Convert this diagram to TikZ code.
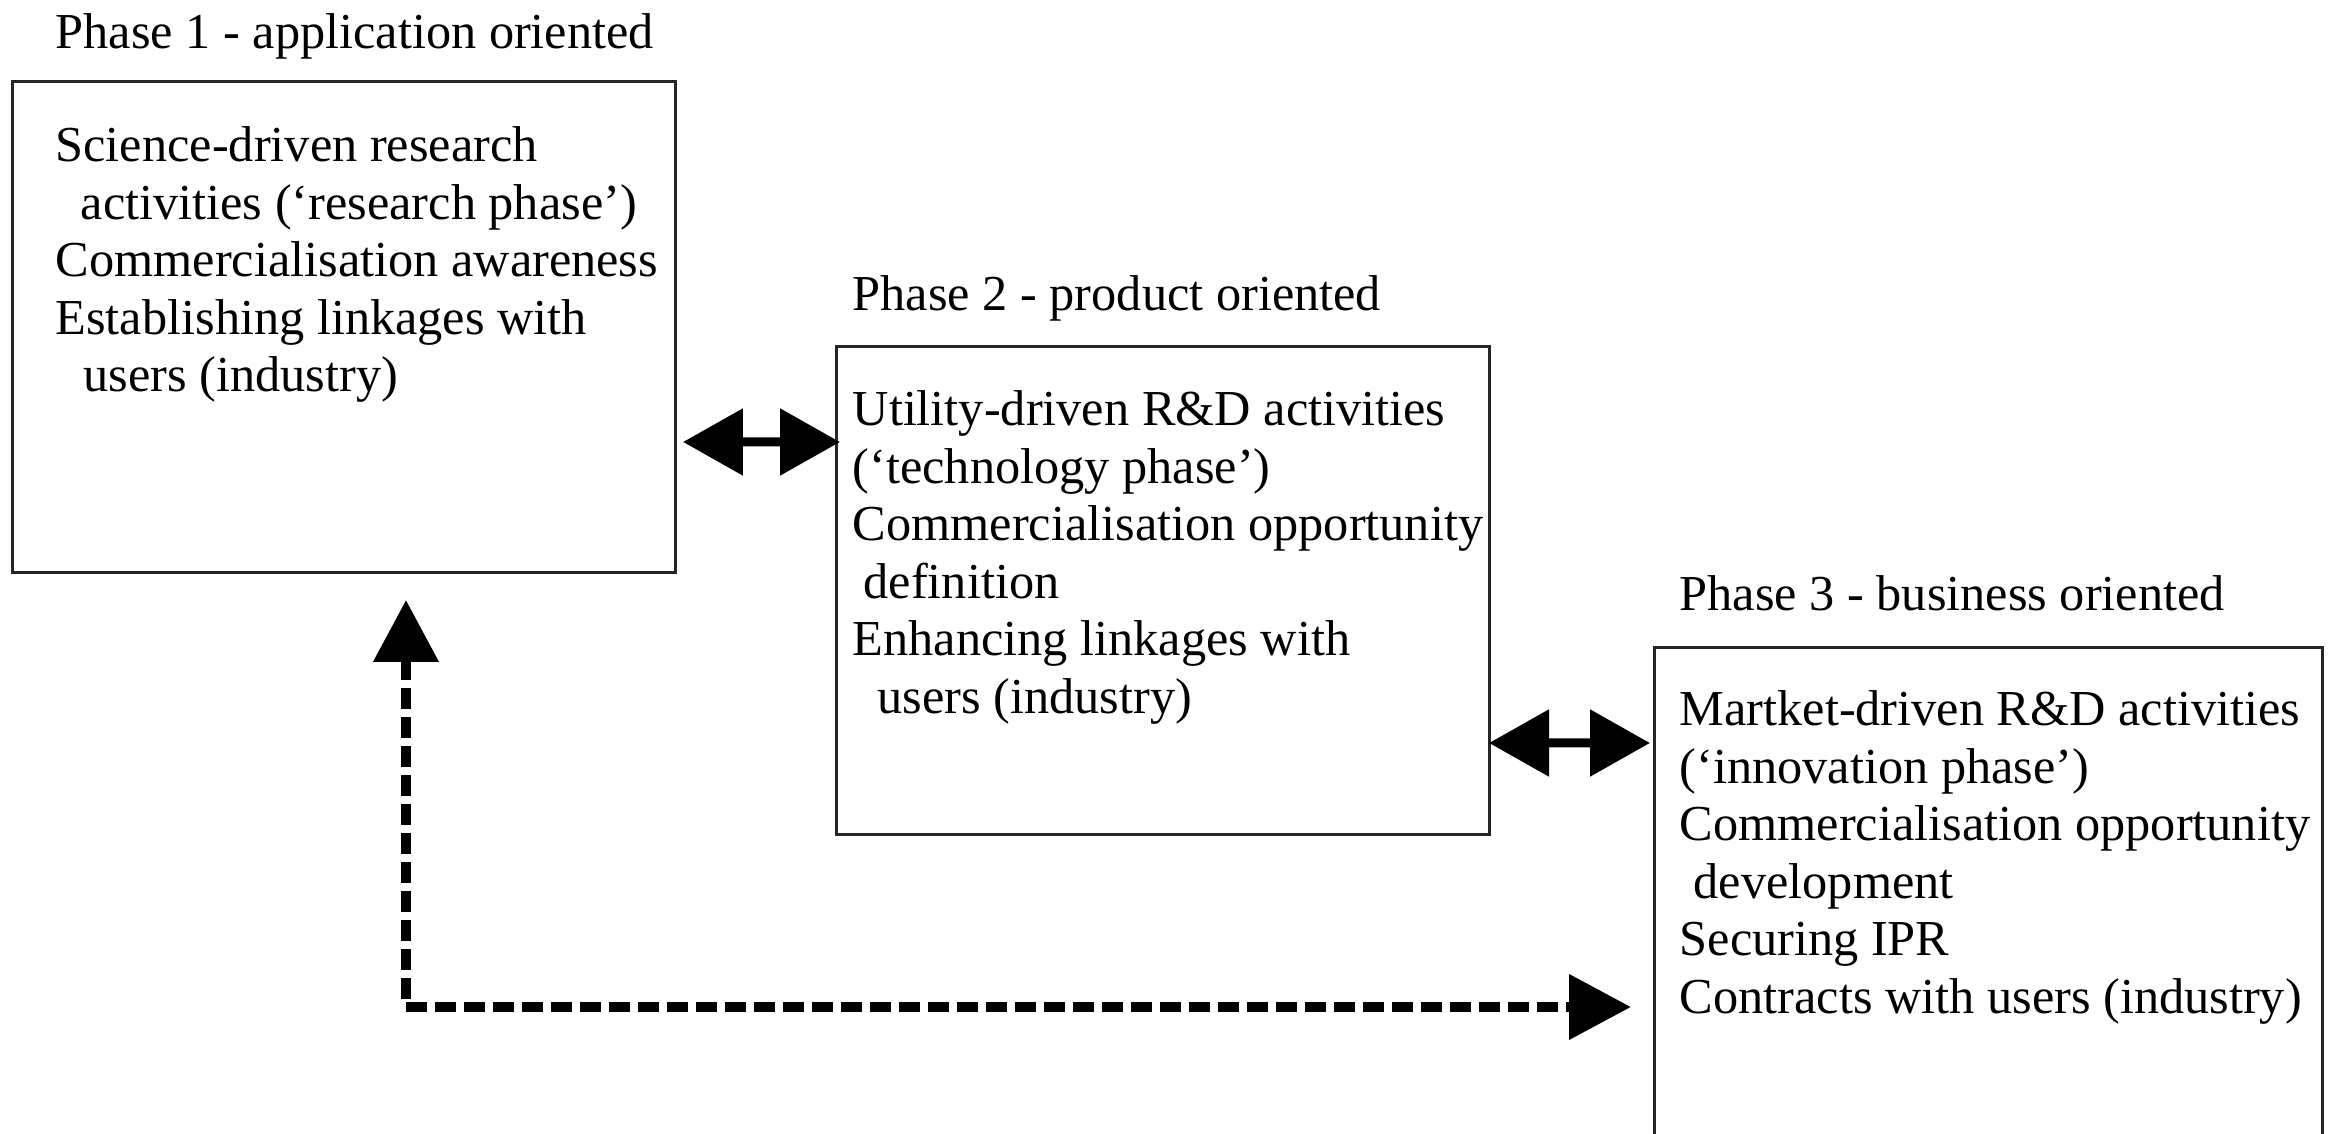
\documentclass[tikz,border=0pt]{standalone}
\usepackage{fontspec}
\setmainfont{Liberation Serif}
\usetikzlibrary{arrows.meta}
\begin{document}
\begin{tikzpicture}[x=0.3pt,y=-0.3pt,
  phasebox/.style={draw=black!85, line width=0.9pt, outer sep=0pt, inner sep=0pt, rectangle},
  bodytext/.style={anchor=north west, inner sep=0pt, align=left,
    font=\fontsize{15.1}{17.25}\selectfont},
  headtext/.style={anchor=base west, inner sep=0pt,
    font=\fontsize{15.1}{17.25}\selectfont},
  linkarrow/.style={line width=2.7pt,
    {Triangle[length=18pt,width=19.5pt]}-{Triangle[length=18pt,width=19.5pt]}},
  feedback/.style={line width=3pt, dash pattern=on 6.3pt off 2.4pt,
    {Triangle[length=18.6pt,width=19pt]}-{Triangle[length=18.6pt,width=19pt]}}
]
\useasboundingbox (0,0) rectangle (2338,1134);
\clip (0,0) rectangle (2338,1134);

% phase boxes
\node[phasebox, anchor=north west, minimum width=199.2pt, minimum height=147.3pt] (p1) at (12,82) {};
\node[phasebox, anchor=north west, minimum width=195.9pt, minimum height=146.4pt] (p2) at (836,347) {};
\node[phasebox, anchor=north west, minimum width=200.4pt, minimum height=153.6pt] (p3) at (1654,648) {};

% headings
\node[headtext] (h1) at (55,49) {Phase 1 - application oriented};
\node[headtext] (h2) at (852,311) {Phase 2 - product oriented};
\node[headtext] (h3) at (1679,611) {Phase 3 - business oriented};

% box contents (first baseline sits 0.7 baselineskip below the node top)
\node[bodytext] (b1) at (55,120.75) {\strut Science-driven research\\
  \hspace*{7.5pt}activities (‘research phase’)\\
  Commercialisation awareness\\
  Establishing linkages with\\
  \hspace*{8.4pt}users (industry)};
\node[bodytext] (b2) at (852,384.75) {\strut Utility-driven R\&D activities\\
  (‘technology phase’)\\
  Commercialisation opportunity\\
  \hspace*{3.3pt}definition\\
  Enhancing linkages with\\
  \hspace*{7.5pt}users (industry)};
\node[bodytext] (b3) at (1679,684.75) {\strut Martket-driven R\&D activities\\
  (‘innovation phase’)\\
  Commercialisation opportunity\\
  \hspace*{4.2pt}development\\
  Securing IPR\\
  Contracts with users (industry)};

% links between consecutive phases
\draw[linkarrow] ([xshift=2.1pt,yshift=-108pt]p1.north east) -- ([xshift=1.2pt,yshift=-28.5pt]p2.north west);
\draw[linkarrow] ([yshift=-118.8pt]p2.north east) -- ([xshift=-1.2pt,yshift=-28.5pt]p3.north west);

% feedback loop between phase 1 and phase 3
\coordinate (f1) at ([xshift=118.2pt,yshift=-8.1pt]p1.south west);
\coordinate (f3) at ([xshift=-6.9pt,yshift=-107.7pt]p3.north west);
\draw[feedback] (f1) |- (f3);
\end{tikzpicture}
\end{document}
